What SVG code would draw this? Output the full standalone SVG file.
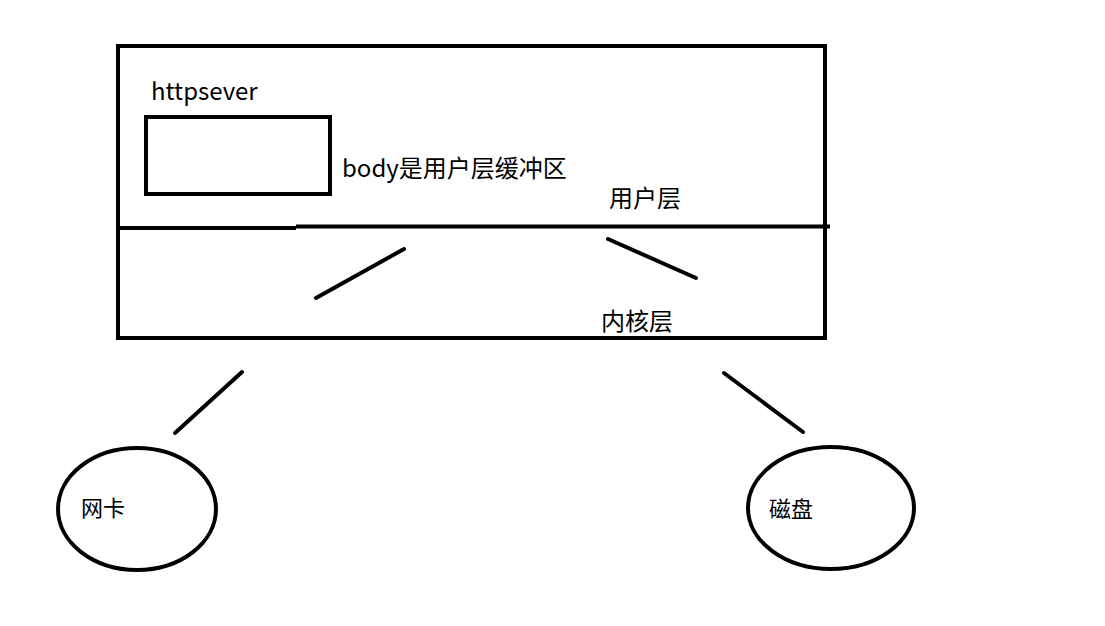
<svg xmlns="http://www.w3.org/2000/svg" width="1105" height="626" viewBox="0 0 1105 626">
<style>
.s{fill:none;stroke:#000;stroke-width:4;stroke-linecap:round}
.b{fill:none;stroke:#000;stroke-width:4}
.t{font-family:"Noto Sans CJK SC","Noto Sans",sans-serif;font-size:24px;fill:#000}
.c{font-family:"Noto Sans CJK SC",sans-serif;font-size:22px;fill:#000}
</style>
<rect width="1105" height="626" fill="#fff"/>
<g id="server">
<rect class="b" x="118" y="46" width="707" height="292"/>
<path class="b" d="M118 228 H296 M296 226.5 H830"/>
<text class="t" x="151" y="100">httpsever</text>
<text class="t" x="609" y="207">用户层</text>
<text class="t" x="601" y="330">内核层</text>
</g>
<g id="body">
<rect class="b" x="146" y="117" width="184" height="77"/>
<text class="t" x="342" y="177">body是用户层缓冲区</text>
</g>
<g id="nic">
<ellipse class="b" cx="137" cy="509" rx="79" ry="61"/>
<text class="c" x="81" y="516">网卡</text>
</g>
<g id="disk">
<ellipse class="b" cx="831" cy="508" rx="83" ry="61"/>
<text class="c" x="769" y="517">磁盘</text>
</g>
<g id="connectors">
<line class="s" x1="316" y1="298" x2="404" y2="249"/>
<line class="s" x1="608" y1="239" x2="696" y2="278"/>
<line class="s" x1="175" y1="433" x2="242" y2="372"/>
<line class="s" x1="724" y1="373" x2="803" y2="432"/>
</g>
</svg>
